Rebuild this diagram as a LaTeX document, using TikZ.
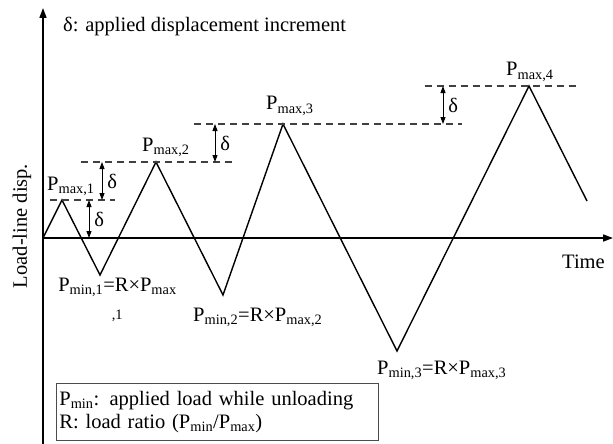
\documentclass[tikz,border=0pt]{standalone}
\usepackage{fontspec}
\setmainfont{Liberation Serif}
\usetikzlibrary{arrows.meta}
\tikzset{
	axis/.style={line width=1.6pt,-{Triangle[length=10pt,width=7pt]}},
	wave/.style={line width=1.4pt,line join=miter},
	level/.style={dash pattern=on 7pt off 5pt,line width=1.1pt,black!75},
	incr/.style={line width=0.9pt,{Triangle[length=7pt,width=5pt]}-{Triangle[length=7pt,width=5pt]}},
	lbl/.style={anchor=base west,inner sep=0pt}
}
\begin{document}
\begin{tikzpicture}[x=1pt,y=-1pt,font=\fontsize{20.5}{23}\selectfont]
			\useasboundingbox (0,0) rectangle (613,444);
			\path (43,238) coordinate (O)
			(43,444) coordinate (Ybot)
			(43,8) coordinate (Ytop)
			(613,238) coordinate (Xtip)
			(62,200) coordinate (M1)
			(100,275) coordinate (N1)
			(156,162) coordinate (M2)
			(223,295) coordinate (N2)
			(283,124) coordinate (M3)
			(397,351) coordinate (N3)
			(529,86) coordinate (M4)
			(587,201) coordinate (E);
			\draw[axis] (Ybot)--(Ytop);
			\draw[axis] (O)--(Xtip);
			\draw[wave] (O)--(M1)--(N1)--(M2)--(N2)--(M3)--(N3)--(M4)--(E);
			% levels and increments
			\foreach \a/\b/\y [count=\i] in {50/115/200,81/233/162,194/462/124,425/577/86}{
				\path (\a,\y) coordinate (L\i-w) (\b,\y) coordinate (L\i-e);
				\draw[level] (L\i-w)--(L\i-e);
			}
			\foreach \x/\ya/\yb [count=\i] in {89/238/200,102/200/162,215/162/124,443/124/86}{
				\path (\x,\ya) coordinate (D\i-s) (\x,\yb) coordinate (D\i-t);
				\draw[incr] (D\i-s)--(D\i-t) node[midway,right=3pt,inner sep=2pt] (d\i) {δ};
			}
			\foreach \x/\y/\t [count=\i] in {47/190/1,142/151/2,266/110/3,506/76/4}{
				\node[lbl] (pmax\i) at (\x,\y) {P\textsubscript{max,\t}};
			}
			\node[anchor=north,inner sep=0pt,align=center] (pmin1) at (117.5,278)
				{P\textsubscript{min,1}=R×P\textsubscript{max}\\[2pt]\textsubscript{,1}};
			\node[lbl] (pmin2) at (193,321) {P\textsubscript{min,2}=R×P\textsubscript{max,2}};
			\node[lbl] (pmin3) at (377,374) {P\textsubscript{min,3}=R×P\textsubscript{max,3}};
			\node[lbl] (time) at (562,268) {Time};
			\node[lbl] (title) at (63,32) {δ: applied displacement increment};
			\node[anchor=base,inner sep=0pt,rotate=90] (ylabel) at (27,226) {Load-line disp.};
			\node[draw=black!70,line width=0.8pt,anchor=north west,align=left,
				text width=316pt,inner xsep=3pt,minimum height=57pt] (legend) at (56,383)
				{P\textsubscript{min}: applied load while unloading\\
				R: load ratio (P\textsubscript{min}/P\textsubscript{max})};
		\end{tikzpicture}
\end{document}
